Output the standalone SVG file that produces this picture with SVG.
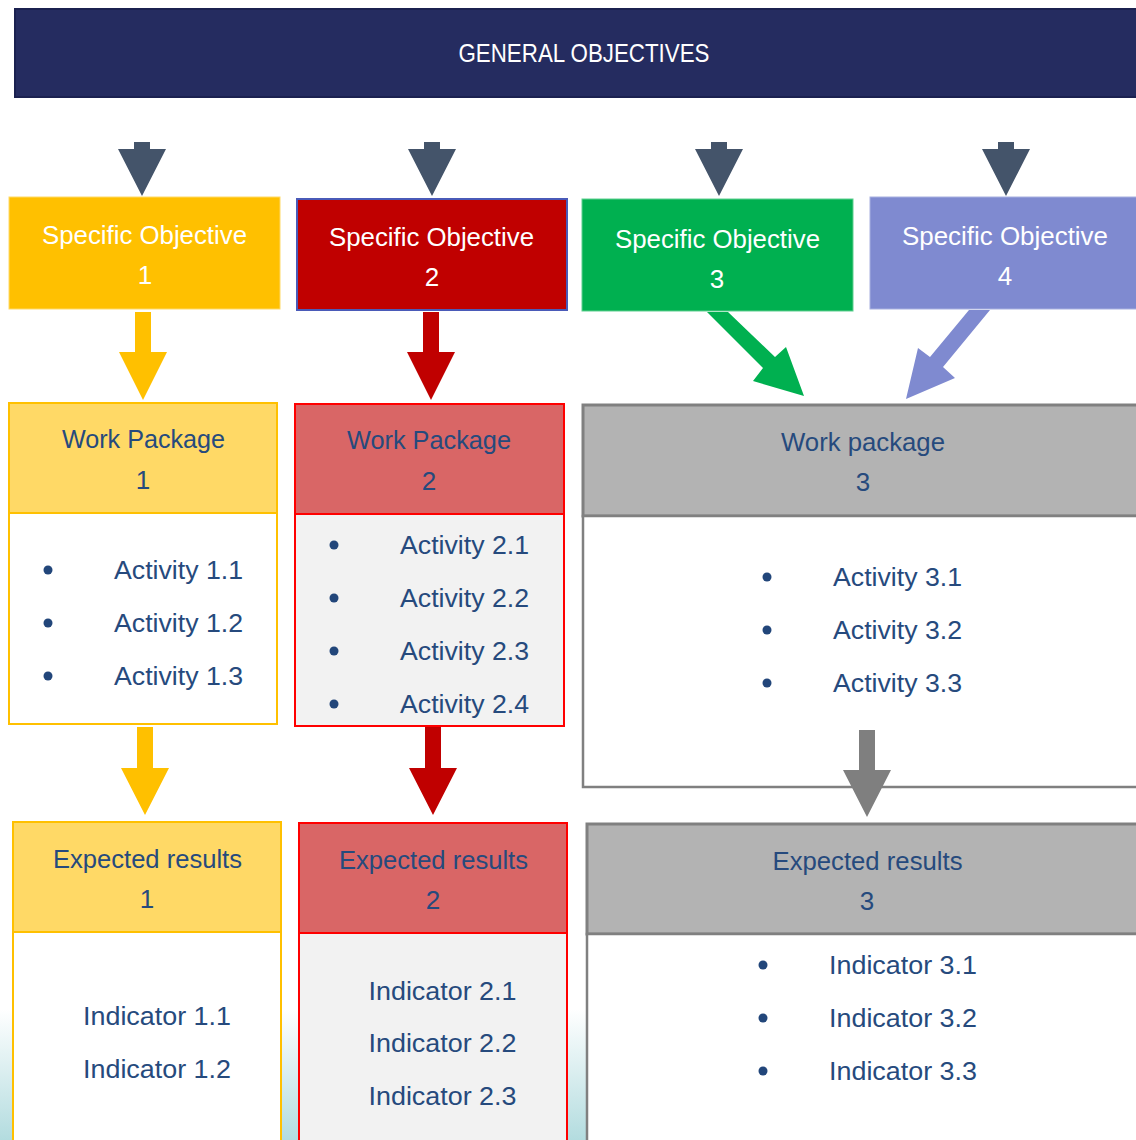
<svg xmlns="http://www.w3.org/2000/svg" width="1136" height="1140" viewBox="0 0 1136 1140">
<defs>
<linearGradient id="bg" x1="0" y1="0" x2="0" y2="1">
<stop offset="0" stop-color="#ffffff"/>
<stop offset="0.885" stop-color="#ffffff"/>
<stop offset="1" stop-color="#b3dcdf"/>
</linearGradient>
<style>
.t{font-family:"Liberation Sans",Arial,sans-serif;font-size:26px;text-anchor:middle}
.l{font-family:"Liberation Sans",Arial,sans-serif;font-size:26px;text-anchor:start;fill:#264a7d}
.w{fill:#ffffff}
.b{fill:#264a7d}
.dot{fill:#22467a}
</style>
</defs>
<rect x="0" y="0" width="1136" height="1140" fill="url(#bg)"/>

<g id="general">
<rect x="15" y="9" width="1130" height="88" fill="#252c60" stroke="#1b2150" stroke-width="2"/>
<text class="t w" x="584" y="62" font-size="23.5" textLength="251" lengthAdjust="spacingAndGlyphs">GENERAL OBJECTIVES</text>
</g>

<g id="so1">
<rect x="9" y="197" width="271" height="112" fill="#ffc000" stroke="#ffd966" stroke-width="1"/>
<text class="t w" x="144.5" y="244" textLength="205" lengthAdjust="spacingAndGlyphs">Specific Objective</text>
<text class="t w" x="145" y="284">1</text>
</g>
<g id="so2">
<rect x="297" y="199" width="270" height="111" fill="#c00000" stroke="#4a5ab8" stroke-width="2"/>
<text class="t w" x="431.5" y="246" textLength="205" lengthAdjust="spacingAndGlyphs">Specific Objective</text>
<text class="t w" x="432" y="286">2</text>
</g>
<g id="so3">
<rect x="582" y="199" width="271" height="112" fill="#00b050" stroke="#5fcf8f" stroke-width="1"/>
<text class="t w" x="717.5" y="248" textLength="205" lengthAdjust="spacingAndGlyphs">Specific Objective</text>
<text class="t w" x="717" y="288">3</text>
</g>
<g id="so4">
<rect x="870" y="197" width="280" height="112" fill="#7f8ad0" stroke="#a8b0e0" stroke-width="1"/>
<text class="t w" x="1005" y="245" textLength="206" lengthAdjust="spacingAndGlyphs">Specific Objective</text>
<text class="t w" x="1005" y="285">4</text>
</g>

<g id="wp1">
<rect x="9" y="403" width="268" height="110" fill="#ffd966" stroke="#ffc000" stroke-width="2"/>
<rect x="9" y="513" width="268" height="211" fill="#ffffff" stroke="#ffc000" stroke-width="2"/>
<text class="t b" x="143.5" y="448" textLength="163" lengthAdjust="spacingAndGlyphs">Work Package</text>
<text class="t b" x="143" y="489">1</text>
<circle class="dot" cx="48" cy="570" r="4.5"/>
<circle class="dot" cx="48" cy="623" r="4.5"/>
<circle class="dot" cx="48" cy="676" r="4.5"/>
<text class="l" x="114" y="579" textLength="129" lengthAdjust="spacingAndGlyphs">Activity 1.1</text>
<text class="l" x="114" y="632" textLength="129" lengthAdjust="spacingAndGlyphs">Activity 1.2</text>
<text class="l" x="114" y="685" textLength="129" lengthAdjust="spacingAndGlyphs">Activity 1.3</text>
</g>

<g id="wp2">
<rect x="295" y="404" width="269" height="110" fill="#d96666" stroke="#ff0000" stroke-width="2"/>
<rect x="295" y="514" width="269" height="212" fill="#f2f2f2" stroke="#ff0000" stroke-width="2"/>
<text class="t b" x="429" y="449" textLength="164" lengthAdjust="spacingAndGlyphs">Work Package</text>
<text class="t b" x="429" y="490">2</text>
<circle class="dot" cx="334" cy="545" r="4.5"/>
<circle class="dot" cx="334" cy="598" r="4.5"/>
<circle class="dot" cx="334" cy="651" r="4.5"/>
<circle class="dot" cx="334" cy="704" r="4.5"/>
<text class="l" x="400" y="554" textLength="129" lengthAdjust="spacingAndGlyphs">Activity 2.1</text>
<text class="l" x="400" y="607" textLength="129" lengthAdjust="spacingAndGlyphs">Activity 2.2</text>
<text class="l" x="400" y="660" textLength="129" lengthAdjust="spacingAndGlyphs">Activity 2.3</text>
<text class="l" x="400" y="713" textLength="129" lengthAdjust="spacingAndGlyphs">Activity 2.4</text>
</g>

<g id="wp3">
<rect x="583" y="405" width="570" height="111" fill="#b3b3b3" stroke="#808080" stroke-width="3"/>
<rect x="583" y="516" width="570" height="271" fill="#ffffff" stroke="#808080" stroke-width="2.5"/>
<text class="t b" x="863" y="451" textLength="164" lengthAdjust="spacingAndGlyphs">Work package</text>
<text class="t b" x="863" y="491">3</text>
<circle class="dot" cx="767" cy="577" r="4.5"/>
<circle class="dot" cx="767" cy="630" r="4.5"/>
<circle class="dot" cx="767" cy="683" r="4.5"/>
<text class="l" x="833" y="586" textLength="129" lengthAdjust="spacingAndGlyphs">Activity 3.1</text>
<text class="l" x="833" y="639" textLength="129" lengthAdjust="spacingAndGlyphs">Activity 3.2</text>
<text class="l" x="833" y="692" textLength="129" lengthAdjust="spacingAndGlyphs">Activity 3.3</text>
</g>

<g id="er1">
<rect x="13" y="822" width="268" height="110" fill="#ffd966" stroke="#ffc000" stroke-width="2"/>
<rect x="13" y="932" width="268" height="230" fill="#ffffff" stroke="#ffc000" stroke-width="2"/>
<text class="t b" x="147.5" y="868" textLength="189" lengthAdjust="spacingAndGlyphs">Expected results</text>
<text class="t b" x="147" y="908">1</text>
<text class="t b" x="157" y="1025" textLength="148" lengthAdjust="spacingAndGlyphs">Indicator 1.1</text>
<text class="t b" x="157" y="1078" textLength="148" lengthAdjust="spacingAndGlyphs">Indicator 1.2</text>
</g>

<g id="er2">
<rect x="299" y="823" width="268" height="110" fill="#d96666" stroke="#ff0000" stroke-width="2"/>
<rect x="299" y="933" width="268" height="230" fill="#f2f2f2" stroke="#ff0000" stroke-width="2"/>
<text class="t b" x="433.5" y="869" textLength="189" lengthAdjust="spacingAndGlyphs">Expected results</text>
<text class="t b" x="433" y="909">2</text>
<text class="t b" x="442.5" y="1000" textLength="148" lengthAdjust="spacingAndGlyphs">Indicator 2.1</text>
<text class="t b" x="442.5" y="1052" textLength="148" lengthAdjust="spacingAndGlyphs">Indicator 2.2</text>
<text class="t b" x="442.5" y="1105" textLength="148" lengthAdjust="spacingAndGlyphs">Indicator 2.3</text>
</g>

<g id="er3">
<rect x="587" y="824" width="570" height="110" fill="#b3b3b3" stroke="#808080" stroke-width="3"/>
<rect x="587" y="934" width="570" height="230" fill="#ffffff" stroke="#808080" stroke-width="2.5"/>
<text class="t b" x="867.5" y="870" textLength="190" lengthAdjust="spacingAndGlyphs">Expected results</text>
<text class="t b" x="867" y="910">3</text>
<circle class="dot" cx="763" cy="965" r="4.5"/>
<circle class="dot" cx="763" cy="1018" r="4.5"/>
<circle class="dot" cx="763" cy="1071" r="4.5"/>
<text class="l" x="829" y="974" textLength="148" lengthAdjust="spacingAndGlyphs">Indicator 3.1</text>
<text class="l" x="829" y="1027" textLength="148" lengthAdjust="spacingAndGlyphs">Indicator 3.2</text>
<text class="l" x="829" y="1080" textLength="148" lengthAdjust="spacingAndGlyphs">Indicator 3.3</text>
</g>

<g id="connectors">
<g fill="#44546a">
<polygon points="134,142 150,142 150,149 166,149 142,196 118,149 134,149"/>
<polygon points="424,142 440,142 440,149 456,149 432,196 408,149 424,149"/>
<polygon points="711,142 727,142 727,149 743,149 719,196 695,149 711,149"/>
<polygon points="998,142 1014,142 1014,149 1030,149 1006,196 982,149 998,149"/>
</g>
<polygon fill="#ffc000" points="135,312 151,312 151,352 167,352 143,400 119,352 135,352"/>
<polygon fill="#c00000" points="423,312 439,312 439,352 455,352 431,400 407,352 423,352"/>
<polygon fill="#00b050" points="707,312 728,312 775,357 786,347 804,396 753,381 763,368"/>
<polygon fill="#7f8ad0" points="969,310 990,310 943,367 955,378 906,399 918,348 930,357"/>
<polygon fill="#ffc000" points="137,727 153,727 153,768 169,768 145,815 121,768 137,768"/>
<polygon fill="#c00000" points="425,727 441,727 441,768 457,768 433,815 409,768 425,768"/>
<polygon fill="#7f7f7f" points="859,730 875,730 875,770 891,770 867,817 843,770 859,770"/>
</g>
</svg>
